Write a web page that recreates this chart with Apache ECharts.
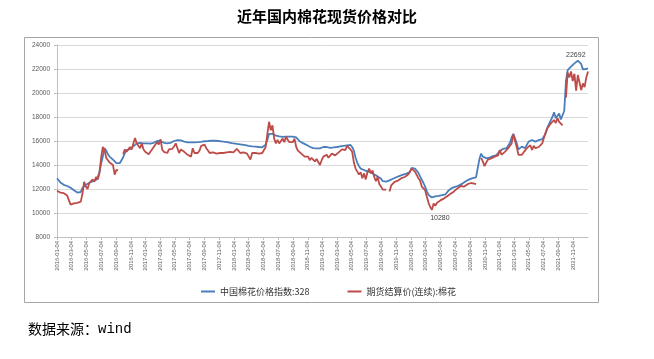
<!DOCTYPE html>
<html><head><meta charset="utf-8">
<script src="https://cdn.jsdelivr.net/npm/echarts@6/dist/echarts.min.js"></script>
<style>html,body{margin:0;padding:0;background:#fff}#c{width:654px;height:359px}</style>
</head><body><div id="c"></div>
<script>
const titleText = '近年国内棉花现货价格对比';
const sourceLabel = '数据来源：';
const sourceName = 'wind';
const seriesNames = ['中国棉花价格指数:328', '期货结算价(连续):棉花'];
const axisStart = '2016-01-04';
const axisEnd = '2022-01-03';
const sampleStart = '2016-01-04';
const sampleStepDays = 7;
const yMin = 8000, yMax = 24000, yStep = 2000;

// 中国棉花价格指数:328 (weekly readings)
const cotton2016 = [12900,12750,12550,12400,12350,12300,12250,12200,12100,12000,11900,11800,11700,11700,11750,12100,12250,12350,12450,12500,12600,12650,12700,12750,13000,13400,14100,14700,15400,15200,14900,14700,14550,14450,14300,14150,14100,14150,14250,14650,15000,15250,15300,15330,15400,15550,15670,15800,15900,15850,15800,15800,15850];
const cotton2017 = [15800,15800,15780,15800,15850,15950,16000,16000,16000,15950,15850,15800,15800,15800,15850,15900,16000,16050,16080,16080,16050,16000,15950,15900,15880,15870,15880,15890,15890,15900,15900,15900,15920,15950,15980,16000,16000,16020,16030,16030,16020,16000,16000,15980,15960,15950,15930,15900,15880,15850,15820,15800];
const cotton2018 = [15780,15760,15740,15720,15700,15670,15650,15620,15600,15580,15560,15550,15530,15530,15500,15490,15480,15470,15700,16100,16600,16700,16600,16500,16450,16400,16380,16360,16350,16350,16360,16370,16370,16370,16360,16360,16300,16150,15980,15900,15820,15750,15680,15600,15520,15450,15400,15380,15380,15390,15390,15420,15500];
const cotton2019 = [15450,15500,15420,15430,15440,15460,15480,15500,15530,15550,15570,15600,15610,15640,15660,15670,15500,15200,14600,14200,13900,13700,13620,13580,13500,13450,13440,13400,13300,13200,13150,13050,12950,12850,12650,12600,12620,12680,12720,12750,12850,12940,12980,13050,13100,13170,13200,13250,13280,13310,13400];
const cotton2020 = [13750,13900,13700,13580,13350,13050,12890,12500,12190,11800,11500,11400,11300,11320,11380,11400,11420,11450,11480,11520,11560,11700,11900,12050,12100,12150,12190,12220,12300,12390,12450,12550,12650,12720,12800,12850,12900,12950,12970,13000,14500,14950,14700,14560,14560,14580,14620,14690,14750,14800,14830,14970];
const cotton2021 = [15150,15250,15350,15390,15400,15500,15850,16300,16600,16200,15800,15300,15450,15530,15450,15400,15700,15950,16050,16080,16000,15950,16050,16080,16080,16150,16300,16600,17100,17400,17700,18000,18400,17900,18050,18300,17800,17800,18500,21000,21900,22050,22190,22300,22470,22600,22692,22600,22420,21970,21920,22000,22060];

// 期货结算价(连续):棉花 (weekly readings, null = gap)
const futures2016 = [11850,11950,11700,11600,11650,11500,11450,11350,10700,10850,10800,10900,10850,10900,10950,11600,12600,12200,12000,12500,12400,12800,12600,13000,12800,13300,14600,15500,15300,14600,14400,14200,14300,14000,13200,13600,13550,null,null,14900,15300,15100,15300,15500,15300,15800,16250,15800,15900,15400,15800,15300,15100];
const futures2017 = [15000,14900,15000,15300,15500,15400,15900,15700,16150,15300,15100,14950,15000,15300,15400,15350,15550,15800,15400,15000,15300,15200,15100,15000,14850,14800,14700,15400,15000,14850,15000,15200,15600,15500,15700,15400,15200,15000,15100,15050,15000,14950,15050,15000,15050,15000,14950,15050,15000,15100,15000,15050];
const futures2018 = [15100,15350,15400,15000,14950,15050,15000,14950,14850,14450,15000,15100,15000,15050,14950,15050,15000,15100,15500,16600,17600,16900,17300,16200,15800,16100,15800,15900,16200,15900,16350,16100,15900,15950,15900,16200,15500,15200,15100,14950,14900,14700,14600,14700,14400,14600,14550,14300,14500,14250,14000,14400,14700];
const futures2019 = [14700,14850,14600,14500,14950,15000,14800,14900,15050,15200,15300,15200,15250,15600,15450,15300,15100,14200,13700,13600,13200,13400,12900,13300,12800,13400,13700,13300,13550,13000,12650,13000,12400,12200,11950,12100,11950,null,11800,12300,12450,12600,12500,12700,12600,12900,12800,13000,13050,13200,13300];
const futures2020 = [13700,13800,13450,13400,12900,12700,12200,12050,11900,11350,10850,10500,10280,10800,10600,10850,10950,11050,11100,11200,11250,11400,11350,11600,11700,11800,11750,12050,12200,12250,12300,12200,12350,12400,12450,12500,12550,12450,12400,null,null,14600,14300,13900,14200,14450,14400,14550,14600,14700,14850,14800];
const futures2021 = [15250,14850,15000,15100,15200,15400,15600,15800,16550,16000,15500,14850,14950,14850,15050,15100,15400,15300,15650,15250,15600,15400,15550,15500,15550,15800,15900,16700,17050,16900,17450,17300,17750,17500,17900,17600,17500,17300,null,19600,21700,21300,21800,21000,21600,20200,21500,21650,20250,20800,20500,21300,21800];

const cottonIndex = [].concat(cotton2016, cotton2017, cotton2018, cotton2019, cotton2020, cotton2021);
const futuresPrice = [].concat(futures2016, futures2017, futures2018, futures2019, futures2020, futures2021);

function addDays(s, n) {
  const d = new Date(s + 'T00:00:00Z');
  d.setUTCDate(d.getUTCDate() + n);
  return d.toISOString().slice(0, 10);
}
const days = [];
for (let i = 0; ; i++) { const d = addDays(axisStart, i); days.push(d); if (d === axisEnd) break; }
function toPairs(vals) {
  return vals.map((v, i) => [addDays(sampleStart, i * sampleStepDays), v == null ? '-' : v]);
}
function showTick(idx, val) {
  const m = +val.slice(5, 7), d = val.slice(8, 10);
  return d === '04' && m % 2 === 1;
}

const chart = echarts.init(document.getElementById('c'));
chart.setOption({
  animation: false,
  backgroundColor: '#fff',
  title: [
    { text: titleText, left: 'center', top: 4,
      textStyle: { fontSize: 15, fontWeight: 'bold', color: '#000', fontFamily: 'Noto Sans CJK SC' } },
    { text: '{a|' + sourceLabel + '}{b|' + sourceName + '}', left: 23, top: 317,
      textStyle: { fontWeight: 'normal', rich: {
        a: { fontSize: 14, fontWeight: 'normal', color: '#000', fontFamily: 'Noto Sans CJK SC' },
        b: { fontSize: 14, fontWeight: 'normal', color: '#000', fontFamily: 'Liberation Mono' } } } }
  ],
  graphic: [{ type: 'rect', shape: { x: 24.5, y: 37.5, width: 574, height: 265 },
    style: { fill: 'none', stroke: '#a6a6a6', lineWidth: 1 }, silent: true }],
  legend: {
    left: 196, top: 282, icon: 'rect', itemWidth: 14, itemHeight: 2, itemGap: 38,
    textStyle: { fontSize: 9, color: '#333', fontFamily: 'Noto Sans CJK SC' },
    data: seriesNames
  },
  grid: { left: 57, right: 66, top: 45, bottom: 122, containLabel: false },
  xAxis: {
    type: 'category', data: days, boundaryGap: false,
    axisLine: { lineStyle: { color: '#bfbfbf' } },
    axisTick: { interval: showTick, length: 3, lineStyle: { color: '#bfbfbf' } },
    axisLabel: { interval: showTick, rotate: 90, fontSize: 5.8, color: '#595959', margin: 4, fontFamily: 'Liberation Sans' },
    splitLine: { show: false }
  },
  yAxis: {
    type: 'value', min: yMin, max: yMax, interval: yStep,
    axisLine: { show: true, lineStyle: { color: '#bfbfbf' } },
    axisTick: { show: true, length: 3, lineStyle: { color: '#bfbfbf' } },
    axisLabel: { fontSize: 6.5, color: '#595959', margin: 7, fontFamily: 'Liberation Sans', formatter: v => String(v) },
    splitLine: { lineStyle: { color: '#d9d9d9' } }
  },
  series: [
    { name: seriesNames[0], type: 'line', data: toPairs(cottonIndex), showSymbol: false,
      lineStyle: { width: 1.8, color: '#4a7ebb' }, itemStyle: { color: '#4a7ebb' },
      markPoint: { symbol: 'circle', symbolSize: 0, data: [{ type: 'max' }],
        label: { show: true, position: 'top', distance: 2, offset: [-2, 0], fontSize: 7, color: '#404040', fontFamily: 'Liberation Sans', formatter: '{c}' } } },
    { name: seriesNames[1], type: 'line', data: toPairs(futuresPrice), showSymbol: false, connectNulls: false,
      lineStyle: { width: 1.8, color: '#be4b48' }, itemStyle: { color: '#be4b48' },
      markPoint: { symbol: 'circle', symbolSize: 0, data: [{ type: 'min' }],
        label: { show: true, position: 'bottom', distance: 5, offset: [8, 0], fontSize: 7, color: '#404040', fontFamily: 'Liberation Sans', formatter: '{c}' } } }
  ]
});
</script></body></html>
